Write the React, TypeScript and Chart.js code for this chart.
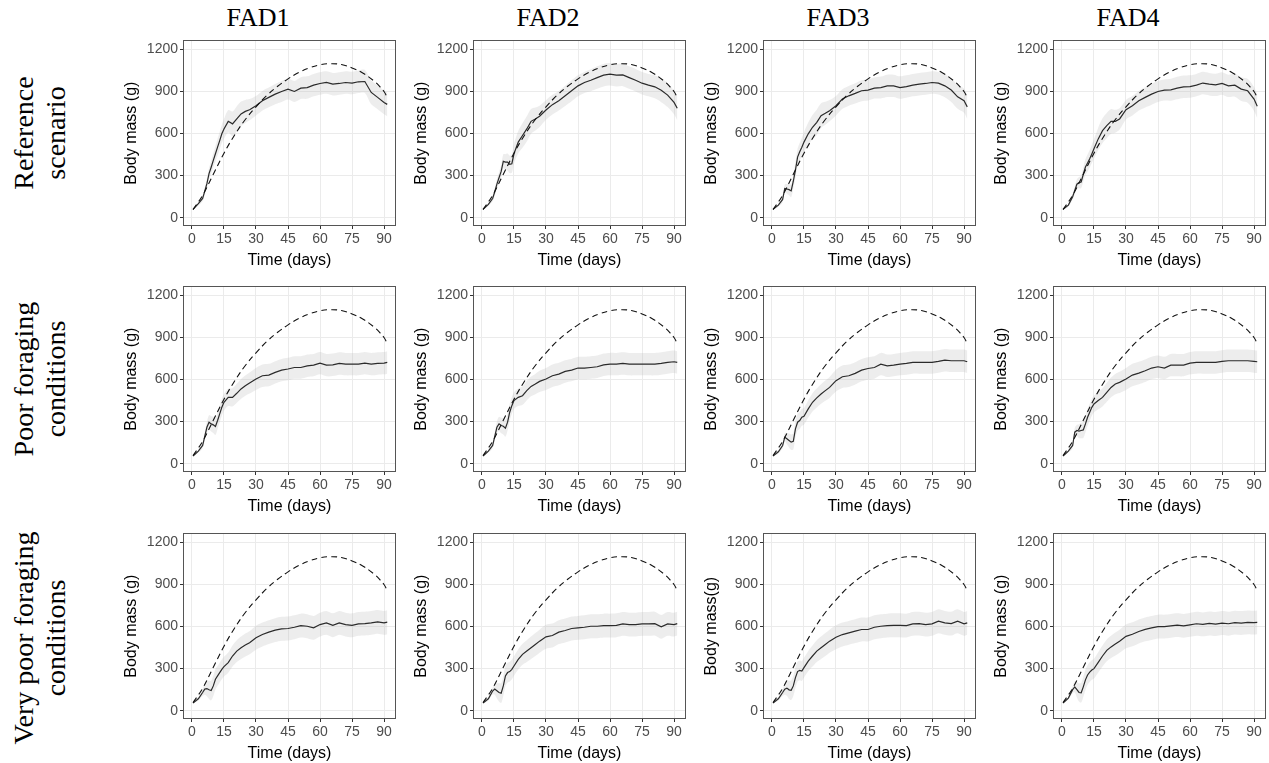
import React, { useEffect, useRef } from "react";
import { Chart, registerables } from "chart.js";

Chart.register(...registerables);

// ---------- DATA ----------
const COL_TITLES = ["FAD1", "FAD2", "FAD3", "FAD4"];
const ROW_TITLES = [
  ["Reference", "scenario"],
  ["Poor foraging", "conditions"],
  ["Very poor foraging", "conditions"],
];
const X_TICKS = [0, 15, 30, 45, 60, 75, 90];
const Y_TICKS = [0, 300, 600, 900, 1200];
const X_TITLE = "Time (days)";
const Y_TITLES = [
  ["Body mass (g)", "Body mass (g)", "Body mass (g)", "Body mass (g)"],
  ["Body mass (g)", "Body mass (g)", "Body mass (g)", "Body mass (g)"],
  ["Body mass (g)", "Body mass (g)", "Body mass(g)", "Body mass (g)"],
];

// simulation days (x of the mean line and ribbon)
const DAYS = [0.5, 3, 5, 6, 7, 8, 9, 10, 11, 12, 13, 14, 15, 17, 19, 21, 23, 25, 27, 30, 33, 36, 39, 42, 45, 48, 51, 54, 57, 60, 63, 66, 69, 72, 75, 78, 81, 84, 87, 90, 91.5];

// reference (observed) growth curve, dashed
const REF_DAYS = [0.5, 5, 10, 15, 20, 25, 30, 35, 40, 45, 50, 55, 60, 65, 70, 75, 80, 85, 88, 90, 91.5];
const REF_MASS = [58, 160, 310, 460, 590, 700, 790, 870, 935, 990, 1035, 1068, 1090, 1098, 1092, 1068, 1032, 978, 935, 900, 858];

// mean simulated body mass per scenario / FAD
const REF_FAD1 = [60, 100, 137, 190, 243, 314, 360, 409, 456, 503, 550, 598, 633, 687, 669, 705, 740, 758, 770, 798, 834, 858, 881, 900, 917, 900, 924, 928, 945, 957, 964, 952, 957, 964, 960, 969, 971, 893, 858, 822, 808];
const REF_FAD2 = [60, 95, 137, 185, 240, 285, 330, 402, 397, 397, 380, 385, 456, 539, 586, 633, 687, 704, 723, 768, 806, 834, 869, 905, 940, 964, 980, 999, 1016, 1023, 1016, 1018, 999, 980, 959, 945, 933, 909, 874, 822, 780];
const REF_FAD3 = [60, 90, 130, 208, 205, 200, 191, 260, 340, 432, 470, 503, 539, 598, 645, 680, 728, 744, 763, 798, 846, 869, 886, 905, 910, 924, 928, 940, 940, 928, 935, 945, 952, 957, 964, 959, 940, 910, 862, 834, 790];
const REF_FAD4 = [60, 90, 150, 195, 239, 250, 255, 310, 361, 390, 420, 455, 491, 562, 621, 657, 687, 687, 704, 770, 798, 834, 858, 881, 900, 910, 912, 924, 933, 935, 945, 960, 952, 947, 957, 940, 945, 917, 905, 846, 795];

const POOR_FAD1 = [55, 90, 130, 195, 260, 296, 284, 277, 265, 308, 355, 402, 438, 473, 473, 502, 533, 556, 575, 604, 627, 632, 651, 667, 675, 686, 686, 698, 703, 717, 703, 705, 715, 710, 710, 710, 717, 710, 715, 717, 722];
const POOR_FAD2 = [55, 90, 130, 195, 260, 284, 272, 267, 253, 296, 367, 414, 450, 473, 485, 521, 551, 568, 587, 604, 627, 639, 658, 667, 682, 682, 686, 691, 705, 710, 710, 715, 710, 710, 710, 710, 710, 715, 722, 727, 722];
const POOR_FAD3 = [55, 85, 130, 189, 178, 166, 154, 159, 249, 296, 308, 331, 338, 391, 438, 469, 497, 521, 544, 592, 620, 627, 644, 667, 679, 686, 710, 698, 703, 710, 715, 722, 722, 722, 722, 729, 738, 734, 734, 734, 727];
const POOR_FAD4 = [55, 90, 130, 225, 237, 232, 237, 241, 284, 331, 367, 402, 426, 450, 473, 509, 544, 568, 580, 604, 632, 646, 663, 682, 691, 682, 703, 703, 703, 717, 722, 722, 722, 722, 729, 734, 734, 734, 734, 729, 727];

const VPOOR_FAD1 = [55, 85, 130, 154, 158, 149, 144, 177, 224, 248, 272, 295, 314, 343, 390, 425, 449, 468, 484, 520, 543, 560, 574, 584, 586, 595, 607, 602, 591, 614, 626, 609, 626, 614, 609, 619, 621, 626, 633, 626, 631];
const VPOOR_FAD2 = [55, 85, 140, 154, 142, 130, 125, 177, 248, 272, 279, 295, 319, 366, 402, 425, 449, 472, 496, 527, 536, 560, 572, 586, 591, 595, 602, 602, 607, 607, 609, 619, 614, 614, 619, 619, 621, 598, 619, 614, 621];
const VPOOR_FAD3 = [55, 85, 130, 154, 161, 149, 146, 177, 236, 279, 288, 283, 307, 354, 390, 425, 449, 472, 496, 524, 543, 555, 567, 579, 579, 595, 602, 607, 609, 609, 607, 619, 621, 614, 619, 638, 626, 621, 638, 619, 626];
const VPOOR_FAD4 = [55, 90, 150, 170, 150, 130, 128, 170, 220, 255, 275, 290, 300, 345, 390, 430, 455, 475, 495, 530, 545, 565, 580, 590, 600, 600, 605, 610, 605, 612, 620, 615, 622, 618, 625, 620, 628, 625, 630, 628, 630];

// ribbon half-widths (g) per scenario
const BAND_REF = [5, 12, 20, 28, 35, 40, 45, 50, 55, 60, 62, 65, 70, 80, 88, 90, 88, 82, 76, 70, 70, 70, 72, 75, 75, 75, 78, 80, 80, 80, 80, 80, 80, 80, 80, 80, 82, 85, 85, 85, 85];
const BAND_POOR = [5, 12, 20, 30, 40, 50, 55, 58, 60, 60, 60, 60, 60, 62, 65, 68, 70, 72, 75, 78, 80, 80, 80, 80, 80, 80, 80, 80, 80, 80, 80, 80, 80, 80, 80, 80, 80, 80, 80, 80, 80];
const BAND_VPOOR = [5, 12, 25, 40, 55, 65, 70, 72, 72, 70, 70, 70, 70, 72, 75, 78, 80, 82, 82, 85, 85, 85, 85, 85, 85, 85, 85, 85, 85, 85, 85, 85, 85, 85, 85, 85, 85, 85, 85, 85, 85];

const MEANS = [
  [REF_FAD1, REF_FAD2, REF_FAD3, REF_FAD4],
  [POOR_FAD1, POOR_FAD2, POOR_FAD3, POOR_FAD4],
  [VPOOR_FAD1, VPOOR_FAD2, VPOOR_FAD3, VPOOR_FAD4],
];
const BANDS = [BAND_REF, BAND_POOR, BAND_VPOOR];

// ---------- STYLE / LAYOUT ----------
const SANS = '"Liberation Sans", Arial, Helvetica, sans-serif';
const SERIF = '"Liberation Serif", "Times New Roman", serif';
const CANVAS_W = 290;
const CANVAS_H = 240;
const COL_LEFT0 = 113;
const COL_STEP = 290;
const ROW_CANVAS_TOPS = [30, 276, 523];

const boxPlugin = {
  id: "panelBox",
  afterDatasetsDraw(chart: any) {
    const { ctx, chartArea } = chart;
    const { left, top, right, bottom } = chartArea;
    ctx.save();
    ctx.strokeStyle = "#555555";
    ctx.lineWidth = 1;
    ctx.strokeRect(Math.round(left) + 0.5, Math.round(top) + 0.5, Math.round(right - left) - 1, Math.round(bottom - top) - 1);
    ctx.restore();
  },
};

function Panel({ mean, band, yTitle, left, top }: { mean: number[]; band: number[]; yTitle: string; left: number; top: number }) {
  const ref = useRef<HTMLCanvasElement | null>(null);
  useEffect(() => {
    if (!ref.current) return;
    const upper = DAYS.map((d, i) => ({ x: d, y: mean[i] + band[i] }));
    const lower = DAYS.map((d, i) => ({ x: d, y: mean[i] - band[i] }));
    const meanPts = DAYS.map((d, i) => ({ x: d, y: mean[i] }));
    const refPts = REF_DAYS.map((d, i) => ({ x: d, y: REF_MASS[i] }));
    const chart = new Chart(ref.current, {
      type: "line",
      data: {
        datasets: [
          { data: upper, borderWidth: 0, borderColor: "rgba(0,0,0,0)", pointRadius: 0, fill: "+1", backgroundColor: "rgba(185,185,185,0.25)", tension: 0.3, order: 3 },
          { data: lower, borderWidth: 0, borderColor: "rgba(0,0,0,0)", pointRadius: 0, fill: false, tension: 0.3, order: 3 },
          { data: meanPts, borderColor: "#2b2b2b", borderWidth: 1.2, pointRadius: 0, fill: false, tension: 0, order: 1 },
          { data: refPts, borderColor: "#111111", borderWidth: 1.1, borderDash: [6, 4], pointRadius: 0, fill: false, tension: 0.4, order: 0 },
        ],
      } as any,
      options: {
        responsive: false,
        animation: false,
        events: [],
        layout: { padding: { top: 9, right: 7, left: 0, bottom: 0 } },
        plugins: { legend: { display: false }, tooltip: { enabled: false } },
        scales: {
          x: {
            type: "linear",
            min: -4.2,
            max: 95.6,
            afterBuildTicks: (s: any) => {
              s.ticks = X_TICKS.map((v) => ({ value: v }));
            },
            afterFit: (s: any) => {
              s.height = 44;
            },
            grid: { color: "#ebebeb", tickColor: "#333333", tickLength: 3, lineWidth: 1 },
            border: { display: false },
            ticks: { color: "#4d4d4d", font: { family: SANS, size: 14 }, padding: 2, maxRotation: 0, autoSkip: false, callback: (v: any) => String(v) },
            title: { display: true, text: X_TITLE, color: "#000000", font: { family: SANS, size: 16 }, padding: { top: 0, bottom: 0 } },
          },
          y: {
            type: "linear",
            min: -59,
            max: 1264,
            afterBuildTicks: (s: any) => {
              s.ticks = Y_TICKS.map((v) => ({ value: v }));
            },
            afterFit: (s: any) => {
              s.width = 70;
            },
            grid: { color: "#ebebeb", tickColor: "#333333", tickLength: 3, lineWidth: 1 },
            border: { display: false },
            ticks: { color: "#4d4d4d", font: { family: SANS, size: 14 }, padding: 2, autoSkip: false, callback: (v: any) => String(v) },
            title: { display: true, text: yTitle, color: "#000000", font: { family: SANS, size: 16 }, padding: { top: 9, bottom: 0 } },
          },
        },
      } as any,
      plugins: [boxPlugin],
    });
    return () => chart.destroy();
  }, [mean, band, yTitle]);
  return <canvas ref={ref} width={CANVAS_W} height={CANVAS_H} style={{ position: "absolute", left, top, width: CANVAS_W, height: CANVAS_H }} />;
}

export default function App() {
  const rowCenters = [133, 379, 638];
  return (
    <div style={{ position: "absolute", left: 0, top: 0, width: 1269, height: 763, background: "#ffffff", overflow: "hidden" }}>
      {COL_TITLES.map((t, c) => (
        <div
          key={t}
          style={{
            position: "absolute",
            left: COL_LEFT0 + COL_STEP * c,
            top: 4,
            width: CANVAS_W,
            textAlign: "center",
            fontFamily: SERIF,
            fontSize: 26,
            lineHeight: "28px",
            color: "#000",
          }}
        >
          {t}
        </div>
      ))}
      {ROW_TITLES.map((lines, r) => (
        <div
          key={r}
          style={{
            position: "absolute",
            left: 40,
            top: rowCenters[r],
            transform: "translate(-50%, -50%) rotate(-90deg)",
            fontFamily: SERIF,
            fontSize: 28,
            lineHeight: "32px",
            textAlign: "center",
            whiteSpace: "nowrap",
            color: "#000",
          }}
        >
          {lines.map((l) => (
            <div key={l}>{l}</div>
          ))}
        </div>
      ))}
      {MEANS.map((row, r) =>
        row.map((m, c) => (
          <Panel
            key={`${r}-${c}`}
            mean={m}
            band={BANDS[r]}
            yTitle={Y_TITLES[r][c]}
            left={COL_LEFT0 + COL_STEP * c}
            top={ROW_CANVAS_TOPS[r]}
          />
        ))
      )}
    </div>
  );
}
